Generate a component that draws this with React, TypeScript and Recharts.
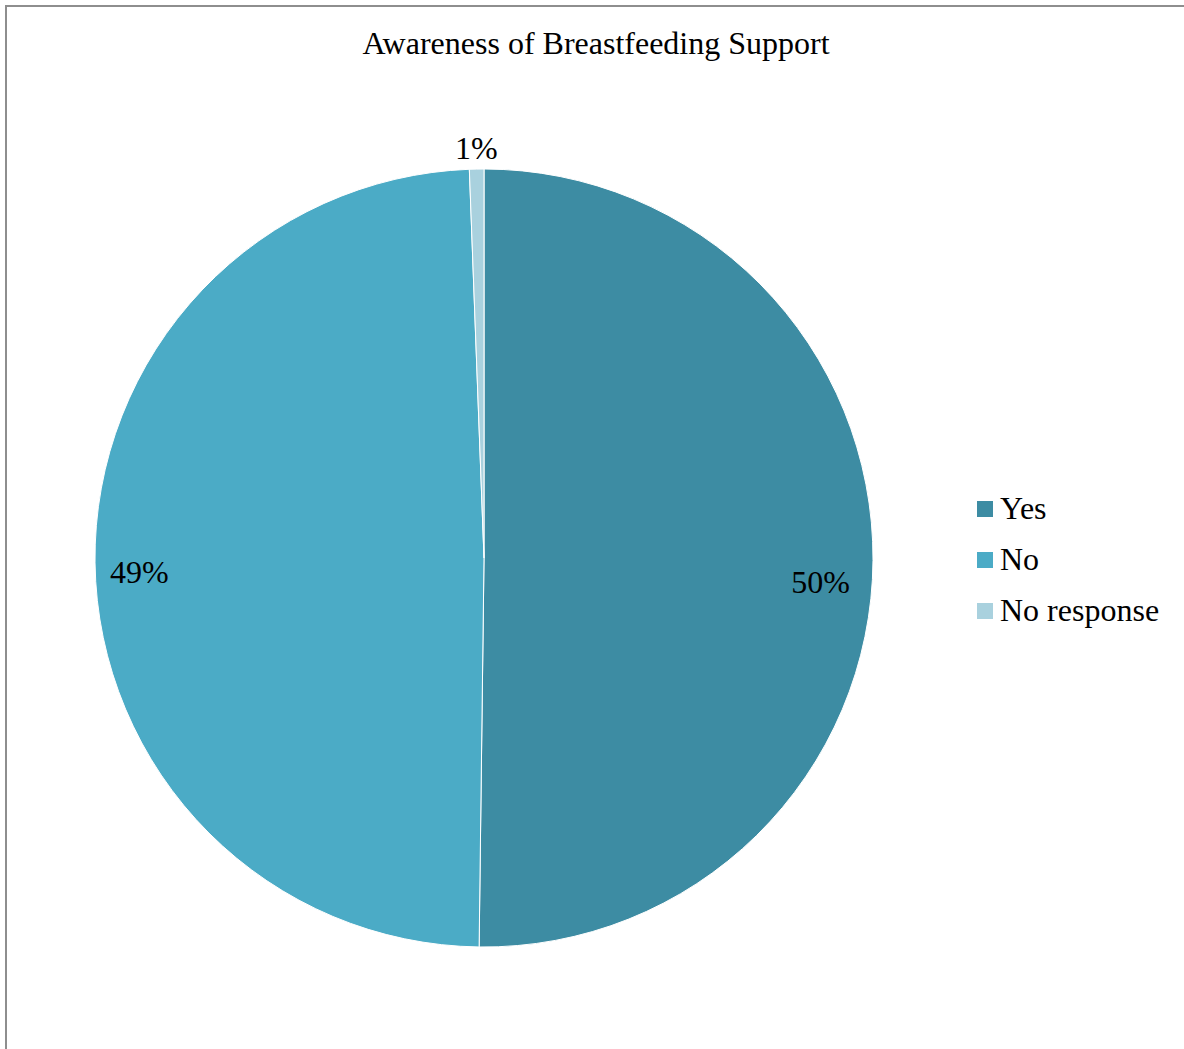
import { Cell, Legend, Pie, PieChart } from "recharts";

const categories = ["Yes", "No", "No response"];
const shares = [50.2, 49.2, 0.6];
const labels = ["50%", "49%", "1%"];

const palette = ["#3d8ca3", "#4babc6", "#a9d1de"];

const data = categories.map((name, i) => ({ name, value: shares[i], label: labels[i] }));

const font = '"Liberation Serif", "Times New Roman", serif';
const fontSize = 32;
const RAD = Math.PI / 180;

// inside labels sit near the rim, a touch below the mid angle (like Excel's best fit)
const renderLabel = (props: any) => {
  const { cx, cy, midAngle, outerRadius, index } = props;
  const cos = Math.cos(-midAngle * RAD);
  const sin = Math.sin(-midAngle * RAD);
  const item = data[index];
  if (item.value < 5) {
    const r = outerRadius + 21;
    return (
      <text x={cx + r * cos} y={cy + r * sin} textAnchor="middle" dominantBaseline="central"
        fontFamily={font} fontSize={fontSize} fill="#000">
        {item.label}
      </text>
    );
  }
  const inset = cos > 0 ? 23 : 15;
  const dy = cos > 0 ? 22 : 9;
  const r = outerRadius - inset;
  return (
    <text x={cx + r * cos} y={cy + r * sin + dy} textAnchor={cos > 0 ? "end" : "start"}
      dominantBaseline="central" fontFamily={font} fontSize={fontSize} fill="#000">
      {item.label}
    </text>
  );
};

const renderLegend = (props: any) => {
  const payload = [...(props.payload || [])].sort(
    (a: any, b: any) => categories.indexOf(a.value) - categories.indexOf(b.value)
  );
  return (
    <div style={{ fontFamily: font, fontSize, color: "#000" }}>
      {payload.map((p: any, i: number) => (
        <div key={i} style={{ display: "flex", alignItems: "center", height: 51 }}>
          <span style={{ width: 16, height: 16, background: p.color, marginRight: 7, display: "inline-block" }} />
          <span>{p.value}</span>
        </div>
      ))}
    </div>
  );
};

export default function App() {
  return (
    <div style={{ position: "absolute", left: 0, top: 0, width: 1184, height: 1049, background: "#fff", overflow: "hidden" }}>
      <div style={{ position: "absolute", left: 5, top: 5, width: 1300, height: 1200, borderLeft: "2px solid #8e8e8e", borderTop: "2px solid #8e8e8e" }} />
      <div style={{ position: "absolute", left: 0, top: 25, width: 1192, textAlign: "center", fontFamily: font, fontSize, color: "#000" }}>
        Awareness of Breastfeeding Support
      </div>
      <div style={{ position: "absolute", left: 0, top: 0 }}>
        <PieChart width={1184} height={1049} margin={{ top: 0, right: 0, bottom: 0, left: 0 }}>
          <Pie
            data={data}
            dataKey="value"
            nameKey="name"
            cx={484}
            cy={558}
            outerRadius={389}
            startAngle={90}
            endAngle={-270}
            stroke="#ffffff"
            strokeWidth={1}
            label={renderLabel}
            labelLine={false}
            isAnimationActive={false}
          >
            {data.map((d, i) => (
              <Cell key={d.name} fill={palette[i]} />
            ))}
          </Pie>
          <Legend
            layout="vertical"
            content={renderLegend}
            wrapperStyle={{ left: 977, top: 483, width: 207 }}
          />
        </PieChart>
      </div>
    </div>
  );
}
